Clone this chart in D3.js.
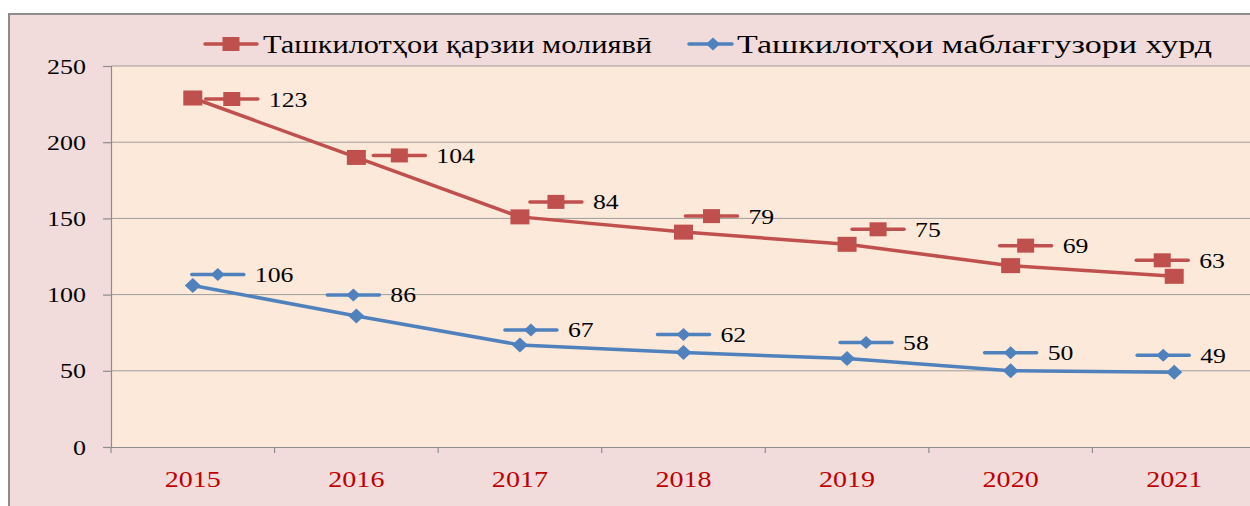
<!DOCTYPE html>
<html>
<head>
<meta charset="utf-8">
<script src="https://cdn.jsdelivr.net/npm/d3@7"></script>
<style>
  html, body { margin: 0; padding: 0; background: #ffffff; }
  svg { display: block; }
</style>
</head>
<body>
<svg id="chart" width="1250" height="506"></svg>
<script>
// ---- data ----
const years = ["2015", "2016", "2017", "2018", "2019", "2020", "2021"];
const seriesNames = ["Ташкилотҳои қарзии молиявӣ", "Ташкилотҳои маблағгузори хурд"];
const creditOrgs = [123, 104, 84, 79, 75, 69, 63];   // stacked on top of micro
const microOrgs = [106, 86, 67, 62, 58, 50, 49];
const yTicks = [0, 50, 100, 150, 200, 250];

// ---- layout ----
const svg = d3.select("#chart");
const W = 1250, H = 506;
const plot = { left: 111, right: 1256, top: 66, bottom: 447 };
const colRed = "#C0504D", colBlue = "#4F81BD";
const serif = "'Liberation Serif', 'Times New Roman', serif";

// outer background
svg.append("rect").attr("x", 9).attr("y", 14).attr("width", W + 20).attr("height", H + 20)
  .attr("fill", "#F2DCDB").attr("stroke", "#8C8C8C").attr("stroke-width", 2);

const x = d3.scaleBand().domain(years).range([plot.left, plot.right]);
const y = d3.scaleLinear().domain([0, 250]).range([plot.bottom, plot.top]);
const cx = d => x(d) + x.bandwidth() / 2;

// plot area
svg.append("rect").attr("x", plot.left).attr("y", plot.top)
  .attr("width", plot.right - plot.left).attr("height", plot.bottom - plot.top)
  .attr("fill", "#FDE9D9");

// gridlines
svg.append("g").selectAll("line").data(yTicks.filter(t => t > 0)).join("line")
  .attr("x1", plot.left).attr("x2", plot.right)
  .attr("y1", d => y(d)).attr("y2", d => y(d))
  .attr("stroke", "#9C9C9C").attr("stroke-width", 1);

function scaledText(parent, tx, ty, str, size, sx, anchor, fill) {
  const g = parent.append("g").attr("transform", `translate(${tx},${ty}) scale(${sx},1)`);
  g.append("text").attr("x", 0).attr("y", 0).attr("text-anchor", anchor)
    .attr("font-family", serif).attr("font-size", size).attr("fill", fill).text(str);
  return g;
}

// y axis
const yAxis = svg.append("g").attr("transform", `translate(${plot.left},0)`)
  .call(d3.axisLeft(y).tickValues(yTicks).tickSize(8).tickFormat(""));
yAxis.select(".domain").attr("stroke", "#8C8C8C").attr("stroke-width", 1.2);
yAxis.selectAll(".tick line").attr("stroke", "#8C8C8C").attr("stroke-width", 1.2);
yTicks.forEach(t => scaledText(svg, 86, y(t) + 7.5, String(t), 22, 1.18, "end", "#000"));

// x axis
const xAxis = svg.append("g").attr("transform", `translate(0,${plot.bottom})`)
  .call(d3.axisBottom(x).tickSize(0).tickFormat(""));
xAxis.select(".domain").attr("stroke", "#8C8C8C").attr("stroke-width", 1.2);
const bounds = years.map(d => x(d)).concat([plot.right]);
svg.append("g").selectAll("line").data(bounds).join("line")
  .attr("x1", d => d).attr("x2", d => d).attr("y1", plot.bottom).attr("y2", plot.bottom + 6)
  .attr("stroke", "#8C8C8C").attr("stroke-width", 1.2);
years.forEach(d => scaledText(svg, cx(d), 486.5, d, 24, 1.17, "middle", "#C00000"));

// series (stacked line)
const topVals = creditOrgs.map((v, i) => v + microOrgs[i]);
const line = d3.line().x((d, i) => cx(years[i])).y(d => y(d));

function square(g, px, py, w, h, col) {
  g.append("rect").attr("x", px - w / 2).attr("y", py - h / 2).attr("width", w).attr("height", h).attr("fill", col);
}
function diamond(g, px, py, w, h, col) {
  g.append("path").attr("d", `M${px - w / 2},${py}L${px},${py - h / 2}L${px + w / 2},${py}L${px},${py + h / 2}Z`).attr("fill", col);
}

const gBlue = svg.append("g");
gBlue.append("path").datum(microOrgs).attr("d", line).attr("fill", "none")
  .attr("stroke", colBlue).attr("stroke-width", 3.5).attr("stroke-linejoin", "round");
microOrgs.forEach((v, i) => diamond(gBlue, cx(years[i]), y(v), 16, 15, colBlue));

const gRed = svg.append("g");
gRed.append("path").datum(topVals).attr("d", line).attr("fill", "none")
  .attr("stroke", colRed).attr("stroke-width", 3.5).attr("stroke-linejoin", "round");
topVals.forEach((v, i) => square(gRed, cx(years[i]), y(v), 19, 15, colRed));

// data labels with legend keys (label nudges, relative to each point)
const redKeyNudge = [[39, 1], [43, -2], [36, -15], [28, -16], [31, -15], [15, -20], [-12, -16]];
const blueKeyNudge = [[25, -11], [-3, -21], [11, -15], [0, -18], [19, -16], [0, -18], [-11, -17]];

function labelKey(g, kx, ky, col, kind) {
  g.append("line").attr("x1", kx - 26).attr("x2", kx + 26).attr("y1", ky).attr("y2", ky)
    .attr("stroke", col).attr("stroke-width", 3.5).attr("stroke-linecap", "round");
  if (kind === "square") square(g, kx, ky, 17, 14, col); else diamond(g, kx, ky, 14, 13, col);
}
const gLab = svg.append("g");
creditOrgs.forEach((v, i) => {
  const kx = cx(years[i]) + redKeyNudge[i][0], ky = y(topVals[i]) + redKeyNudge[i][1];
  labelKey(gLab, kx, ky, colRed, "square");
  scaledText(gLab, kx + 37, ky + 7.5, String(v), 22, 1.17, "start", "#000");
});
microOrgs.forEach((v, i) => {
  const kx = cx(years[i]) + blueKeyNudge[i][0], ky = y(v) + blueKeyNudge[i][1];
  labelKey(gLab, kx, ky, colBlue, "diamond");
  scaledText(gLab, kx + 37, ky + 7.5, String(v), 22, 1.17, "start", "#000");
});

// legend
const gLeg = svg.append("g");
gLeg.append("line").attr("x1", 205).attr("x2", 257).attr("y1", 44).attr("y2", 44)
  .attr("stroke", colRed).attr("stroke-width", 3.5).attr("stroke-linecap", "round");
square(gLeg, 231, 44, 17, 14, colRed);
gLeg.append("text").attr("x", 263).attr("y", 53).attr("font-family", serif).attr("font-size", 25)
  .attr("textLength", 389).attr("lengthAdjust", "spacingAndGlyphs").attr("fill", "#000").text(seriesNames[0]);
gLeg.append("line").attr("x1", 689).attr("x2", 732).attr("y1", 44).attr("y2", 44)
  .attr("stroke", colBlue).attr("stroke-width", 3.5).attr("stroke-linecap", "round");
diamond(gLeg, 713, 44, 14, 13, colBlue);
gLeg.append("text").attr("x", 737).attr("y", 53).attr("font-family", serif).attr("font-size", 25)
  .attr("textLength", 475).attr("lengthAdjust", "spacingAndGlyphs").attr("fill", "#000").text(seriesNames[1]);
</script>
</body>
</html>
